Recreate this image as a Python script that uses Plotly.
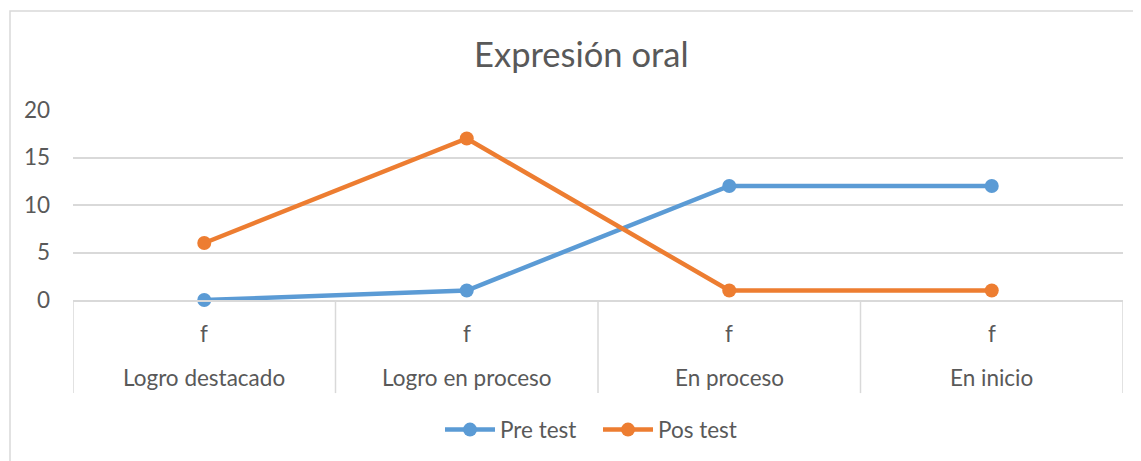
import plotly.graph_objects as go

categories = ["Logro destacado", "Logro en proceso", "En proceso", "En inicio"]
sub_labels = ["f", "f", "f", "f"]
pre_test = [0, 1, 12, 12]
pos_test = [6, 17, 1, 1]
y_ticks = [0, 5, 10, 15, 20]

FONT = "Lato"
GREY = "#595959"
GRID = "#D9D9D9"
LBL = 22.5

x_pos = list(range(len(categories)))

fig = go.Figure()
fig.add_trace(go.Scatter(
    x = x_pos, y = pre_test,
    name = 'Pre test',
    mode = 'lines+markers',
    line = dict(color = '#5B9BD5', width = 4.5),
    marker = dict(size = 14, color = '#5B9BD5'),
    cliponaxis = False
))
fig.add_trace(go.Scatter(
    x = x_pos, y = pos_test,
    name = 'Pos test',
    mode = 'lines+markers',
    line = dict(color = '#ED7D31', width = 4.5),
    marker = dict(size = 14, color = '#ED7D31'),
    cliponaxis = False
))

# two level category labels, drawn under the axis
for i, (cat, sub) in enumerate(zip(categories, sub_labels)):
    fig.add_annotation(x = i, y = -0.174, xref = 'x', yref = 'paper',
                       text = sub, showarrow = False, yanchor = 'middle',
                       font = dict(size = LBL, color = GREY, family = FONT))
    fig.add_annotation(x = i, y = -0.41, xref = 'x', yref = 'paper',
                       text = cat, showarrow = False, yanchor = 'middle',
                       font = dict(size = LBL, color = GREY, family = FONT))

# dividers between categories
for i in range(len(categories) + 1):
    fig.add_shape(type = 'line', xref = 'x', yref = 'paper',
                  x0 = i - 0.5, x1 = i - 0.5, y0 = 0, y1 = -0.49,
                  line = dict(color = GRID, width = 1.5), layer = 'below')

# outer chart border (partly cropped in the original)
fig.add_shape(type = 'rect', xref = 'paper', yref = 'paper',
              x0 = -0.06, x1 = 1.2, y0 = -1.2, y1 = 1.521,
              line = dict(color = GRID, width = 1.5), layer = 'below')

fig.update_layout(
    width = 1133, height = 453,
    paper_bgcolor = 'white', plot_bgcolor = 'white',
    font = dict(family = FONT, color = GREY, size = LBL),
    title = dict(text = 'Expresión oral', x = 0.506, xanchor = 'center',
                 y = 0.896, yanchor = 'middle',
                 font = dict(size = 34.5, color = GREY, family = FONT)),
    margin = dict(l = 65, r = 18, t = 102, b = 161, autoexpand = False),
    showlegend = True,
    legend = dict(orientation = 'h', x = 0.5, xanchor = 'center',
                  y = -0.684, yanchor = 'middle',
                  font = dict(size = LBL, color = GREY),
                  itemwidth = 50, entrywidth = 93, entrywidthmode = 'pixels',
                  traceorder = 'normal'),
    xaxis = dict(
        range = [-0.5, len(categories) - 0.5],
        showgrid = False, zeroline = False,
        showline = True, linecolor = GRID, linewidth = 1.5,
        showticklabels = False, ticks = '', automargin = False,
    ),
    yaxis = dict(
        range = [0, 20],
        tickvals = y_ticks,
        showgrid = True, gridcolor = GRID, gridwidth = 1.5,
        zeroline = False, showline = False,
        ticklabelstandoff = 22, automargin = False,
        tickfont = dict(size = LBL, color = GREY),
    ),
)

fig.write_html("out.html")
